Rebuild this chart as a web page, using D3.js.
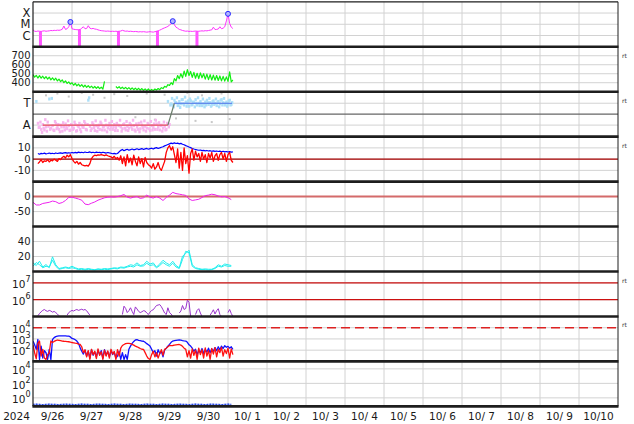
<!DOCTYPE html>
<html><head><meta charset="utf-8">
<script src="https://cdn.jsdelivr.net/npm/d3@7"></script>
<style>html,body{margin:0;padding:0;background:#fff;}svg{display:block;font-family:"DejaVu Sans",sans-serif;}</style>
</head><body><svg id="c" width="634" height="424"></svg>
<script>
// ---------- data (hourly from 2024-09-26 00:00 unless noted) ----------
const xrayFlux = [3.2,2.4,2.3,2.5,2.4,2.3,2.5,2.6,2.4,2.5,2.6,2.8,2.7,2.9,2.8,3.0,2.9,3.1,3.6,7.0,3.5,4.0,6.0,16,
4.0,3.6,3.4,3.3,3.2,3.4,4.5,6.0,4.0,4.2,7.5,4.5,4.0,4.3,3.8,3.6,3.2,2.9,2.7,2.6,2.5,2.4,2.5,2.4,
2.3,2.4,2.3,2.4,2.3,2.4,2.5,2.9,2.6,2.4,2.5,2.3,2.4,2.3,2.2,2.3,2.2,2.1,2.2,2.1,2.2,2.1,2.0,2.1,
2.2,2.1,2.0,2.2,2.3,2.6,3.0,3.5,4.2,4.8,5.5,6.5,8.5,11,19,9,5.5,4.5,3.5,3.2,2.8,2.6,2.4,2.5,
2.3,2.4,2.3,2.4,2.5,2.4,2.4,2.5,2.6,2.5,2.7,2.6,2.8,3.0,3.2,5.5,3.4,3.5,3.8,6.0,4.0,4.5,6.0,20,
85,12,5.5,4.2]; // µW/m2
const xrayDropHours = [4.6, 28.6, 52.6, 76.6, 100.9];
const flareHours = [23, 86, 120];
const flareFlux = [16, 19, 85];

const windSpeed = [490,462,482,452,478,450,472,445,468,440,462,432,455,428,450,420,440,412,432,400,420,392,410,385,
400,372,392,365,385,360,378,352,372,348,368,345,362,340,358,338,355,334,350,330,415,
null,null,null,null,null,null,
358,340,355,335,350,332,348,328,345,325,342,322,340,320,338,318,335,315,332,312,330,310,
325,312,330,318,335,322,345,335,360,350,378,370,
400,380,445,420,480,445,500,455,530,470,545,480,525,460,515,450,505,445,510,455,500,440,495,435,490,430,485,428,480,425,475,420,470,418,465,415,520,410,430];

const phiA = [null,null,330,150,120,100,140,95,120,160,350,110,130,90,150,115,100,135,85,120,145,105,130,95,
125,110,140,90,120,100,135,115,150,95,340,125,105,140,90,130,115,100,145,120,95,135,110,150,
125,100,140,115,90,130,120,105,145,95,125,110,140,100,130,85,120,150,105,135,95,125,110,140,
90,130,115,100,145,120,95,135,110,125,100,330,140,310,300,340,320,295,330,310,345,300,325,315,
290,335,305,320,345,300,315,330,295,310,325,340,305,320,300,335,315,295,330,310,345,320,300,325,310,340,305,null];
const phiB = [null,null,null,115,160,75,110,180,85,125,100,355,95,165,105,140,80,120,155,95,115,170,90,140,
100,160,85,130,150,80,120,165,100,140,360,90,155,115,170,85,135,160,95,125,175,80,130,100,
165,120,90,150,135,175,85,140,110,165,90,150,120,175,95,145,100,80,160,115,170,85,150,105,
165,95,145,175,100,155,130,85,160,95,150,120,300,355,285,320,360,305,280,345,310,365,290,335,
350,300,325,285,315,360,295,310,350,285,300,320,355,290,330,305,350,320,285,340,300,355,315,290,335,300,320,null];
const greyHours = [8,15,22,30,37,44,50,58,63,70,75,81,88,95,100,104,110,116,121];
const greyPhi = [380,395,370,400,385,360,390,375,200,395,180,385,190,400,170,380,160,395,185];
const sectorHours = [6, 83, 87, 122.5];
const sectorPhi = [135, 135, 315, 315];

const imfBt = [null,null,null,5.0,4.4,5.1,4.8,5.3,4.7,5.0,5.4,4.9,5.2,4.8,5.5,5.0,5.3,5.6,5.1,5.5,5.8,5.3,5.7,5.4,
5.9,5.5,6.0,5.6,6.2,5.8,6.1,5.7,6.3,5.9,6.0,6.4,5.8,6.1,5.7,6.2,5.9,6.0,5.6,6.1,5.8,5.4,5.9,5.5,
5.2,4.8,5.1,4.7,5.0,6.5,7.8,8.6,7.5,8.2,8.8,7.9,8.4,9.0,8.3,8.7,9.2,8.5,8.9,9.4,8.6,9.1,9.5,8.8,
9.3,9.7,9.0,9.8,10.2,9.5,10.0,10.6,11.0,11.8,12.4,13.0,13.6,14.2,13.8,14.5,13.9,14.3,13.6,14.0,13.2,12.8,12.0,11.5,
10.8,10.2,9.5,9.0,8.6,8.2,7.9,8.1,7.6,7.8,7.4,7.7,7.2,7.5,7.0,7.3,6.9,7.2,6.8,7.1,6.6,7.0,6.5,6.8,6.3,6.7,6.2,6.5];
const imfBz = [null,null,null,-4,-2.5,-0.5,-3,-1.5,-2,-0.5,-2.5,-1,-1.5,0,-1,-2,0.5,-0.5,1.5,2.5,1,3.5,2,4,
0.5,-2,-3.5,-2,-4.5,-3,-5,-5.5,-6,-5.5,-6.2,-4,0.5,2.5,3.5,3.2,3.8,3.5,4.0,3.6,3.2,3.8,3.0,2.5,
2.0,1.0,2.5,0.5,1.5,-1,3,-4,2,-6,4,-3,1,-5,3.5,-2,-6,2,-4,0.5,-7,1.5,-3,-5,
-6,-8,-4,-9,-7,-3,-8,-10,-6,-2,6,10,12,8,11,4,-3,9,-8,6,-10,10,-4,3,
-12.5,5,9,-1,7,2,5,-2,6,0,4,-3,5,1,6,-2,3,5,-1,4,6,0,5,-2,4,6,-1,-3];

// every 2 hours
const dst = [-19,-28,-28,-23,-21,-19,-15,-17,-23,-20,-13,-3,-2,-5,-8,-12,-25,-27,-22,-18,-12,-8,-4,-2,-1,-2,0,3,7,-2,-5,-2,0,-6,-4,5,-2,-5,0,-5,-13,-3,5,14,10,8,6,4,-8,-13,-11,-9,-3,3,5,8,6,2,-1,0,-4,-10];
const cyanA = [11.5,8,13.7,6,9.3,5,19.6,9,4,5,6,5,7,5,3.5,4,3,4,3,2.5,3.5,3,4,3.5,4,5,4.5,6,5.5,7,9,8,11.5,8,9,13.7,10,11.5,6,10,15,11.5,9,13.7,8,5,20.4,24,28.4,9,5,4,3,3.5,3,3,5,9,7,10,9,8];
const cyanB = [7,12,9,5,7,6,15,7,3,4,5,4,5,4,2.5,3,2,3,2.5,2,3,2.5,3,2.5,3.5,4,3.5,5,4.5,6,7,6,9,7,7.5,11,8,9,5,8,12,9,7,11,6,4,16,27,25,7,4,3,2.5,2.5,2,2.5,4,7,6,8,7,7];

const electronFlux = [null,null,null,1.1e5,1.5e5,1.9e5,2.3e5,2.6e5,2.2e5,2.0e5,2.3e5,2.1e5,1.8e5,2.0e5,1.7e5,1.4e5,1.1e5,
null,null,null,null,
1.2e5,1.7e5,2.0e5,2.3e5,2.1e5,2.4e5,2.6e5,2.3e5,2.5e5,2.7e5,2.4e5,2.6e5,2.2e5,1.6e5,1.2e5,
null,null,null,null,null,null,null,null,null,null,null,null,null,null,null,null,null,null,null,
1.3e5,4.1e5,3.0e5,1.7e5,2.2e5,3.3e5,2.0e5,1.3e5,3.7e5,2.8e5,2.0e5,1.7e5,1.9e5,2.2e5,2.1e5,1.6e5,1.3e5,1.8e5,2.3e5,2.5e5,3.4e5,4.5e5,4.8e5,5.1e5,3.8e5,2.5e5,1.6e5,1.3e5,3.3e5,1.7e5,1.4e5,1.0e5,
null,null,null,
1.6e5,2.1e5,4.5e5,2.6e5,3.0e5,9.3e5,7.0e5,1.0e5,
null,null,
1.3e5,2.3e5,2.9e5,1.6e5,1.0e5,
null,null,null,null,
1.2e5,1.7e5,2.5e5,1.4e5,2.2e5,2.9e5,1.3e5,1.0e5,
null,null,null,
1.7e5,2.6e5,1.5e5,1.0e5];

const fluxBlue = [650,300,117,900,15,230,20,90,59,15,117,14,900,1300,1600,1780,1850,1900,1900,1900,1850,1800,1750,1500,1100,1000,850,650,400,160,80,45,100,30,80,20,110,35,70,25,100,40,90,20,110,35,75,25,95,40,70,20,
30,80,15,60,15,40,15,120,230,400,600,800,850,750,700,650,620,500,380,300,230,120,60,90,30,110,50,80,25,100,150,230,330,500,650,700,750,780,800,780,720,680,650,500,300,230,150,80,120,40,100,60,140,50,110,70,150,60,130,80,170,90,200,110,230,140,250,180,220,150,200,120];
const fluxRed = [300,59,17,400,650,30,117,20,15,40,59,650,480,600,700,800,750,700,650,620,600,580,560,520,
480,450,420,400,350,320,200,60,110,25,90,15,120,40,80,18,130,35,70,15,100,30,85,20,
120,45,75,15,110,30,150,260,320,380,400,400,380,330,280,230,200,170,140,120,117,60,30,18,
15,40,80,25,60,20,50,110,35,117,150,200,260,250,260,280,300,310,320,280,220,150,117,25,
90,20,130,35,100,15,150,40,110,20,160,30,90,15,140,45,170,25,120,60,180,30,110,50,150,20,130,40];
// every 2 hours
const bottomFlux = [0.12,0.13,0.12,0.11,0.12,0.13,0.12,0.12,0.11,0.12,0.13,0.12,0.12,0.11,0.12,0.13,0.12,0.12,0.11,0.12,0.13,0.12,0.12,0.11,0.12,0.13,0.12,0.12,0.11,0.12,0.13,0.12,0.12,0.11,0.12,0.13,0.12,0.12,0.11,0.12,0.13,0.12,0.12,0.11,0.12,0.13,0.12,0.12,0.11,0.12,0.13,0.12,0.12,0.11,0.12,0.13,0.12,0.12,0.11,0.12,0.13,0.12];

const yearLabel = "2024";
const sideLabel = "rt";
const sideLabelPanels = [1,2,3,6,7];

// ---------- layout ----------
const svg = d3.select('#c');
const L = 33, R = 618, T0 = 1.8, PH = 44.95;
const t0 = Date.UTC(2024, 8, 26);
const hr = h => new Date(t0 + h * 3600e3);
const x = d3.scaleUtc().domain([hr(0), hr(15 * 24)]).range([L, R]);
const pTop = i => T0 + i * PH;
const dayLines = d3.range(1, 15).map(d => hr(d * 24));

const specs = [
  {y: d3.scaleLog().domain([0.1, 1000]), ticks: [1, 10, 100], fmt: v => ({1: 'C', 10: 'M', 100: 'X'})[v]},
  {y: d3.scaleLinear().domain([300, 800]), ticks: [400, 500, 600, 700]},
  {y: d3.scaleLinear().domain([40, 410]), ticks: [135, 315], fmt: v => v === 135 ? 'A' : 'T'},
  {y: d3.scaleLinear().domain([-20, 20]), ticks: [-10, 0, 10]},
  {y: d3.scaleLinear().domain([-100, 50]), ticks: [-50, 0]},
  {y: d3.scaleLinear().domain([0, 60]), ticks: [20, 40]},
  {y: d3.scaleLog().domain([1e5, Math.pow(10, 7.68)]), ticks: [1e6, 1e7], pow: true},
  {y: d3.scaleLog().domain([10, 1e5]), ticks: [1e2, 1e3, 1e4], pow: true},
  {y: d3.scaleLog().domain([Math.pow(10, -1.17), Math.pow(10, 5.03)]), ticks: [1, 1e2, 1e4], pow: true}
];
specs.forEach((s, i) => s.y.range([pTop(i + 1), pTop(i)]));

const defs = svg.append('defs');
specs.forEach((s, i) => {
  defs.append('clipPath').attr('id', 'cp' + i).append('rect')
    .attr('x', L).attr('y', pTop(i)).attr('width', R - L).attr('height', PH);
});

// grid
const grid = svg.append('g');
specs.forEach((s, i) => {
  grid.selectAll(null).data(dayLines).enter().append('line')
    .attr('x1', d => x(d)).attr('x2', d => x(d))
    .attr('y1', pTop(i)).attr('y2', pTop(i + 1))
    .attr('stroke', '#d2d2d2').attr('stroke-width', 1);
  grid.selectAll(null).data(s.ticks).enter().append('line')
    .attr('x1', L).attr('x2', R)
    .attr('y1', d => s.y(d)).attr('y2', d => s.y(d))
    .attr('stroke', '#d2d2d2').attr('stroke-width', 1);
});

function layer(i) { return svg.append('g').attr('clip-path', 'url(#cp' + i + ')'); }
function hourly(arr, step) { return arr.map((v, k) => ({t: hr(k * (step || 1)), v: v})); }
function drawLine(g, data, ys, color, w, dash) {
  const ln = d3.line().defined(d => d.v != null).x(d => x(d.t)).y(d => ys(d.v));
  const p = g.append('path').datum(data).attr('d', ln).attr('fill', 'none')
    .attr('stroke', color).attr('stroke-width', w).attr('stroke-linejoin', 'round');
  if (dash) p.attr('stroke-dasharray', dash);
  return p;
}

// panel 0: X-ray
{
  const s = specs[0], g = layer(0);
  g.selectAll(null).data(xrayDropHours).enter().append('line')
    .attr('x1', d => x(hr(d))).attr('x2', d => x(hr(d)))
    .attr('y1', d => s.y(xrayFlux[Math.round(d)])).attr('y2', pTop(1))
    .attr('stroke', '#ff55ff').attr('stroke-width', 3);
  drawLine(g, hourly(xrayFlux), s.y, '#ff33ff', 1);
  g.selectAll(null).data(flareHours).enter().append('circle')
    .attr('cx', d => x(hr(d))).attr('cy', (d, k) => s.y(flareFlux[k])).attr('r', 2.5)
    .attr('fill', '#b0b4ff').attr('stroke', '#2a2aff').attr('stroke-width', 1);
}
// panel 1: wind speed
{
  const s = specs[1], g = layer(1);
  drawLine(g, hourly(windSpeed), s.y, '#11ee11', 1.2);
}
// panel 2: sector
{
  const s = specs[2], g = layer(2);
  g.append('line').attr('x1', L).attr('x2', R).attr('y1', s.y(225)).attr('y2', s.y(225))
    .attr('stroke', '#666').attr('stroke-width', 1.2);
  const pts = hourly(phiA).concat(phiB.map((v, k) => ({t: hr(k + 0.5), v: v}))).filter(d => d.v != null);
  g.selectAll(null).data(greyHours).enter().append('rect')
    .attr('x', d => x(hr(d)) - 1).attr('y', (d, k) => s.y(greyPhi[k]) - 1)
    .attr('width', 2).attr('height', 2).attr('fill', '#c8c8c8');
  g.selectAll(null).data(pts).enter().append('rect')
    .attr('x', d => x(d.t) - 1.1).attr('y', d => s.y(d.v) - 1.5)
    .attr('width', 2.4).attr('height', 3)
    .attr('fill', d => (d.v > 45 && d.v < 225) ? '#f7b6ee' : '#acdff8');
  const segColors = ['#e8485a', '#6b7d6b', '#4a6ee8'];
  for (let k = 0; k < sectorHours.length - 1; k++) {
    g.append('line')
      .attr('x1', x(hr(sectorHours[k]))).attr('x2', x(hr(sectorHours[k + 1])))
      .attr('y1', s.y(sectorPhi[k])).attr('y2', s.y(sectorPhi[k + 1]))
      .attr('stroke', segColors[k]).attr('stroke-width', 1.2);
  }
}
// panel 3: IMF
{
  const s = specs[3], g = layer(3);
  g.append('line').attr('x1', L).attr('x2', R).attr('y1', s.y(0)).attr('y2', s.y(0))
    .attr('stroke', '#a80000').attr('stroke-width', 1.2);
  drawLine(g, hourly(imfBt), s.y, '#0000ff', 1.2);
  drawLine(g, hourly(imfBz), s.y, '#ff0000', 1.3);
}
// panel 4: Dst
{
  const s = specs[4], g = layer(4);
  g.append('line').attr('x1', L).attr('x2', R).attr('y1', s.y(0)).attr('y2', s.y(0))
    .attr('stroke', '#d46a6a').attr('stroke-width', 2);
  drawLine(g, hourly(dst, 2), s.y, '#ee22ee', 1);
}
// panel 5: cyan
{
  const s = specs[5], g = layer(5);
  drawLine(g, hourly(cyanB, 2), s.y, '#22eeee', 1);
  drawLine(g, hourly(cyanA, 2), s.y, '#22eeee', 1);
}
// panel 6: electrons
{
  const s = specs[6], g = layer(6);
  [1e6, 1e7].forEach(v => g.append('line').attr('x1', L).attr('x2', R)
    .attr('y1', s.y(v)).attr('y2', s.y(v)).attr('stroke', '#cc1111').attr('stroke-width', 1.2));
  drawLine(g, hourly(electronFlux), s.y, '#9933cc', 1);
}
// panel 7: flux
{
  const s = specs[7], g = layer(7);
  g.append('line').attr('x1', L).attr('x2', R).attr('y1', s.y(1e4)).attr('y2', s.y(1e4))
    .attr('stroke', '#dd2222').attr('stroke-width', 1.5).attr('stroke-dasharray', '9,5');
  drawLine(g, hourly(fluxBlue), s.y, '#1010ff', 1.3);
  drawLine(g, hourly(fluxRed), s.y, '#ff1010', 1.3);
}
// panel 8
{
  const s = specs[8], g = layer(8);
  drawLine(g, hourly(bottomFlux, 2), s.y, '#9fb0ff', 1.5);
  drawLine(g, hourly(bottomFlux, 2), s.y, '#2e4de0', 1.5, '1.5,1.5');
}

// frame
const fr = svg.append('g').attr('stroke', '#1e1e1e');
fr.append('line').attr('x1', L).attr('x2', L).attr('y1', T0).attr('y2', pTop(9)).attr('stroke-width', 1.2);
fr.append('line').attr('x1', R).attr('x2', R).attr('y1', T0).attr('y2', pTop(9)).attr('stroke-width', 1);
fr.append('line').attr('x1', L).attr('x2', R).attr('y1', T0).attr('y2', T0).attr('stroke-width', 1.3);
d3.range(1, 10).forEach(i => fr.append('line').attr('x1', L - 0.6).attr('x2', R + 0.5)
  .attr('y1', pTop(i)).attr('y2', pTop(i)).attr('stroke-width', 2.6));

// y labels
const lab = svg.append('g').attr('fill', '#1a1a1a').attr('font-size', 10.5);
specs.forEach((s, i) => {
  s.ticks.forEach(v => {
    const t = lab.append('text').attr('x', 30.5).attr('y', s.y(v)).attr('dy', '0.36em')
      .attr('text-anchor', 'end');
    if (s.pow) {
      t.attr('dy', '0.5em');
      t.append('tspan').text('10');
      t.append('tspan').attr('font-size', 8).attr('dy', '-0.75em').text(Math.round(Math.log10(v)));
    } else if (s.fmt) {
      t.attr('font-size', 11.5).text(s.fmt(v));
    } else {
      t.attr('font-size', 10).text(String(v));
    }
  });
});
// right side labels
sideLabelPanels.forEach(i => {
  svg.append('text').attr('x', 622).attr('y', pTop(i) + 11).attr('font-size', 6)
    .attr('fill', '#333').text(sideLabel);
});
// x labels
const fmt = d3.utcFormat('%-m/%e');
svg.append('g').attr('font-size', 10.5).attr('fill', '#1a1a1a').selectAll(null)
  .data(d3.range(0, 15)).enter().append('text')
  .attr('x', d => x(hr(d * 24 + 12))).attr('y', 420).attr('text-anchor', 'middle')
  .attr('xml:space', 'preserve').style('white-space', 'pre')
  .text(d => fmt(hr(d * 24)));
svg.append('text').attr('x', 16.5).attr('y', 420).attr('text-anchor', 'middle')
  .attr('font-size', 10.5).attr('fill', '#1a1a1a').text(yearLabel);
</script></body></html>
